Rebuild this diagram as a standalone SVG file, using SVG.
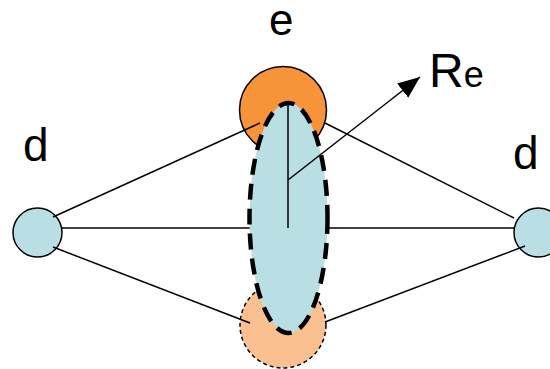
<svg xmlns="http://www.w3.org/2000/svg" width="550" height="369" viewBox="0 0 550 369">
  <style>
    .lbl { font-family: "Liberation Sans", Arial, sans-serif; fill: #000; }
    .ln { stroke: #000; stroke-width: 1.5; fill: none; }
    .small { fill: #B9DEE3; stroke: #000; stroke-width: 1.5; }
  </style>
  <defs>
    <marker id="arrow" markerUnits="userSpaceOnUse" markerWidth="24" markerHeight="20" refX="22" refY="9" orient="auto">
      <path d="M0,0 L22,9 L0,18 Z" fill="#000"/>
    </marker>
  </defs>

  <g id="e-top">
    <circle cx="283" cy="110" r="43.5" fill="#F7943A" stroke="#000" stroke-width="1.5"/>
  </g>
  <g id="e-bottom">
    <circle cx="283" cy="325" r="43" fill="#FAC08F" stroke="#000" stroke-width="1.5" stroke-dasharray="4 3"/>
  </g>
  <g id="d-left">
    <circle class="small" cx="37.5" cy="232.5" r="24.5"/>
  </g>
  <g id="d-right">
    <circle class="small" cx="538.5" cy="232.5" r="24.5"/>
  </g>

  <g id="connectors">
    <line class="ln" x1="53" y1="217" x2="260" y2="123"/>
    <line class="ln" x1="62" y1="228" x2="250" y2="228"/>
    <line class="ln" x1="53" y1="247" x2="250" y2="323"/>
    <line class="ln" x1="325" y1="123" x2="514" y2="218"/>
    <line class="ln" x1="326" y1="228" x2="514" y2="228"/>
    <line class="ln" x1="325" y1="322" x2="525" y2="246"/>
  </g>

  <g id="ellipse">
    <ellipse cx="288.5" cy="218" rx="39" ry="115" fill="#B9DEE3" stroke="#000" stroke-width="4.5" stroke-dasharray="16 9"/>
  </g>

  <g id="radius">
    <line class="ln" x1="288" y1="103" x2="288" y2="228"/>
    <line class="ln" x1="288" y1="180" x2="420" y2="77" marker-end="url(#arrow)"/>
  </g>

  <g id="labels">
    <text class="lbl" x="269" y="35" font-size="44">e</text>
    <text class="lbl" x="23" y="161" font-size="46">d</text>
    <text class="lbl" x="513" y="169" font-size="46">d</text>
    <text class="lbl" x="429" y="87" font-size="48">R<tspan font-size="36">e</tspan></text>
  </g>
</svg>
